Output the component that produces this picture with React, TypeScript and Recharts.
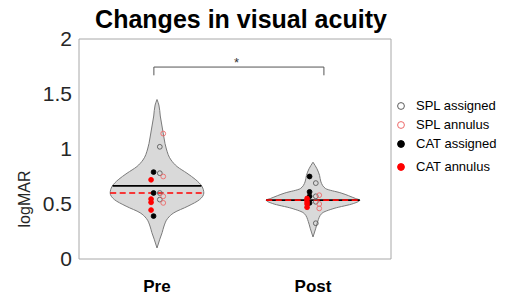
import React from "react";
import {
  Area,
  ComposedChart,
  Label,
  Legend,
  Line,
  ReferenceArea,
  ReferenceDot,
  ReferenceLine,
  Scatter,
  XAxis,
  YAxis,
} from "recharts";

const FONT = "Arial, 'Liberation Sans', Helvetica, sans-serif";

const conditions = ["Pre", "Post"];
const conditionPos = [1, 2];
const yTicks = [0, 0.5, 1, 1.5, 2];

// violin outlines: logMAR level and relative density (1 = widest)
const preViolinLogMAR = [0.1, 0.18, 0.24, 0.3, 0.37, 0.42, 0.48, 0.54, 0.6, 0.66, 0.72, 0.78, 0.84, 0.9, 1.0, 1.1, 1.2, 1.3, 1.4, 1.45];
const preViolinDensity = [0, 0.06, 0.11, 0.15, 0.23, 0.36, 0.66, 0.91, 1, 0.96, 0.83, 0.64, 0.43, 0.3, 0.2, 0.15, 0.11, 0.07, 0.04, 0];
const postViolinLogMAR = [0.2, 0.28, 0.34, 0.415, 0.46, 0.505, 0.535, 0.55, 0.6, 0.64, 0.7, 0.76, 0.82, 0.88];
const postViolinDensity = [0, 0.06, 0.1, 0.19, 0.45, 0.87, 1, 0.91, 0.6, 0.27, 0.17, 0.14, 0.085, 0];

const medians = [0.665, 0.535];
const means = [0.6, 0.535];

// individual eyes
const splAssignedPre = [1.02, 0.78, 0.6, 0.54];
const splAssignedPost = [0.69, 0.57, 0.52, 0.325];
const splAnnulusPre = [1.14, 0.75, 0.57, 0.51];
const splAnnulusPost = [0.58, 0.5, 0.46];
const catAssignedPre = [0.79, 0.6, 0.39];
const catAssignedPost = [0.75, 0.61, 0.57, 0.51];
const catAnnulusPre = [0.72, 0.545, 0.515, 0.445];
const catAnnulusPost = [0.55, 0.52, 0.5, 0.47];

// significance bracket Pre vs Post
const sigFrom = 0.98;
const sigTo = 2.07;
const sigTop = 1.745;
const sigDrop = 1.67;
const sigText = "*";

const HALF = 0.3; // max violin half width, in x units

const violin = (center: number, vals: number[], dens: number[]) =>
  vals.map((v, i) => ({ v, range: [center - HALF * dens[i], center + HALF * dens[i]] }));

const halfAt = (vals: number[], dens: number[], y: number) => {
  for (let i = 1; i < vals.length; i++) {
    if (y <= vals[i]) {
      const t = (y - vals[i - 1]) / (vals[i] - vals[i - 1]);
      return HALF * (dens[i - 1] + t * (dens[i] - dens[i - 1]));
    }
  }
  return 0;
};

const preViolin = violin(1, preViolinLogMAR, preViolinDensity);
const postViolin = violin(2, postViolinLogMAR, postViolinDensity);
const outlines = [
  [preViolinLogMAR, preViolinDensity],
  [postViolinLogMAR, postViolinDensity],
];

const groups = [
  { name: "SPL assigned", pre: splAssignedPre, post: splAssignedPost, dx: 0.018, fill: "none", stroke: "#5c5c5c" },
  { name: "SPL annulus", pre: splAnnulusPre, post: splAnnulusPost, dx: 0.04, fill: "none", stroke: "#ee6a6a" },
  { name: "CAT assigned", pre: catAssignedPre, post: catAssignedPost, dx: -0.022, fill: "#000", stroke: "#000" },
  { name: "CAT annulus", pre: catAnnulusPre, post: catAnnulusPost, dx: -0.038, fill: "#ff0000", stroke: "#ff0000" },
];

const bracket = [
  { x: sigFrom, v: sigDrop },
  { x: sigFrom, v: sigTop },
  { x: sigTo, v: sigTop },
  { x: sigTo, v: sigDrop },
];

function LegendBox() {
  return (
    <div style={{ fontFamily: FONT, fontSize: 13, color: "#000" }}>
      {groups.map((g, i) => (
        <div
          key={g.name}
          style={{ display: "flex", alignItems: "center", height: 19, marginTop: i === 3 ? 4 : 0 }}
        >
          <svg width={16} height={10}>
            <circle cx={8} cy={5} r={3.4} fill={g.fill} stroke={g.stroke} strokeWidth={1} />
          </svg>
          <span style={{ marginLeft: 7 }}>{g.name}</span>
        </div>
      ))}
    </div>
  );
}

export default function App() {
  return (
    <div style={{ position: "absolute", left: 0, top: 0, width: 507, height: 297, background: "#fff" }}>
      <div
        style={{
          position: "absolute",
          left: 0,
          top: 7,
          width: 482,
          textAlign: "center",
          fontFamily: FONT,
          fontWeight: "bold",
          fontSize: 25,
          lineHeight: "25px",
          color: "#000",
        }}
      >
        Changes in visual acuity
      </div>
      <ComposedChart
        width={507}
        height={297}
        layout="vertical"
        margin={{ top: 39, right: 116, bottom: 0, left: 19 }}
      >
        <XAxis
          type="number"
          dataKey="x"
          domain={[0.5, 2.5]}
          ticks={conditionPos}
          tickFormatter={(v: number) => conditions[conditionPos.indexOf(v)]}
          allowDataOverflow
          axisLine={false}
          tickLine={false}
          tickSize={6}
          tickMargin={15}
          height={38}
          tick={{ fill: "#000", fontSize: 17, fontWeight: "bold", fontFamily: FONT }}
        />
        <YAxis
          type="number"
          dataKey="v"
          domain={[0, 2]}
          ticks={yTicks}
          reversed
          allowDataOverflow
          axisLine={false}
          tickLine={false}
          width={60}
          tickSize={5}
          tickMargin={2}
          tick={{ fill: "#262626", fontSize: 21, fontFamily: FONT }}
        >
          <Label
            content={() => (
              <text
                transform="translate(30,199) rotate(-90)"
                textAnchor="middle"
                fontSize={16}
                fontFamily={FONT}
                fill="#262626"
              >
                logMAR
              </text>
            )}
          />
        </YAxis>
        <Legend
          layout="horizontal"
          align="center"
          verticalAlign="middle"
          content={() => <LegendBox />}
          wrapperStyle={{ left: 393, top: 96, width: 114 }}
        />
        <ReferenceArea x1={0.5} x2={2.5} y1={0} y2={2} fill="none" stroke="#a8a8a8" strokeWidth={1} />

        <Area
          data={preViolin}
          dataKey="range"
          type="monotone"
          fill="#d9d9d9"
          fillOpacity={1}
          stroke="#7a7a7a"
          strokeWidth={1}
          legendType="none"
          isAnimationActive={false}
        />
        <Area
          data={postViolin}
          dataKey="range"
          type="monotone"
          fill="#d9d9d9"
          fillOpacity={1}
          stroke="#7a7a7a"
          strokeWidth={1}
          legendType="none"
          isAnimationActive={false}
        />

        {medians.map((m, i) => {
          const hw = halfAt(outlines[i][0], outlines[i][1], m);
          return (
            <ReferenceLine
              key={"med" + i}
              segment={[
                { x: conditionPos[i] - hw, y: m },
                { x: conditionPos[i] + hw, y: m },
              ]}
              stroke="#000"
              strokeWidth={1.6}
            />
          );
        })}
        {means.map((m, i) => {
          const hw = halfAt(outlines[i][0], outlines[i][1], m);
          return (
            <ReferenceLine
              key={"mean" + i}
              segment={[
                { x: conditionPos[i] - hw, y: m },
                { x: conditionPos[i] + hw, y: m },
              ]}
              stroke="#ff0000"
              strokeWidth={1.6}
              strokeDasharray="6 3.5"
            />
          );
        })}

        {groups.map((g) => (
          <Scatter
            key={g.name}
            name={g.name}
            data={[
              ...g.pre.map((v) => ({ x: conditionPos[0] + g.dx, v })),
              ...g.post.map((v) => ({ x: conditionPos[1] + g.dx, v })),
            ]}
            shape={(p: any) => (
              <circle cx={p.cx} cy={p.cy} r={2.4} fill={g.fill} stroke={g.stroke} strokeWidth={0.9} />
            )}
            isAnimationActive={false}
          />
        ))}

        <Line
          data={bracket}
          dataKey="x"
          type="linear"
          stroke="#555"
          strokeWidth={1}
          dot={false}
          activeDot={false}
          legendType="none"
          isAnimationActive={false}
        />
        <ReferenceDot
          x={(sigFrom + sigTo) / 2 - 0.015}
          y={1.785}
          r={0}
          stroke="none"
          label={{ value: sigText, position: "center", fontSize: 13, fill: "#333", fontFamily: FONT }}
        />
      </ComposedChart>
    </div>
  );
}
